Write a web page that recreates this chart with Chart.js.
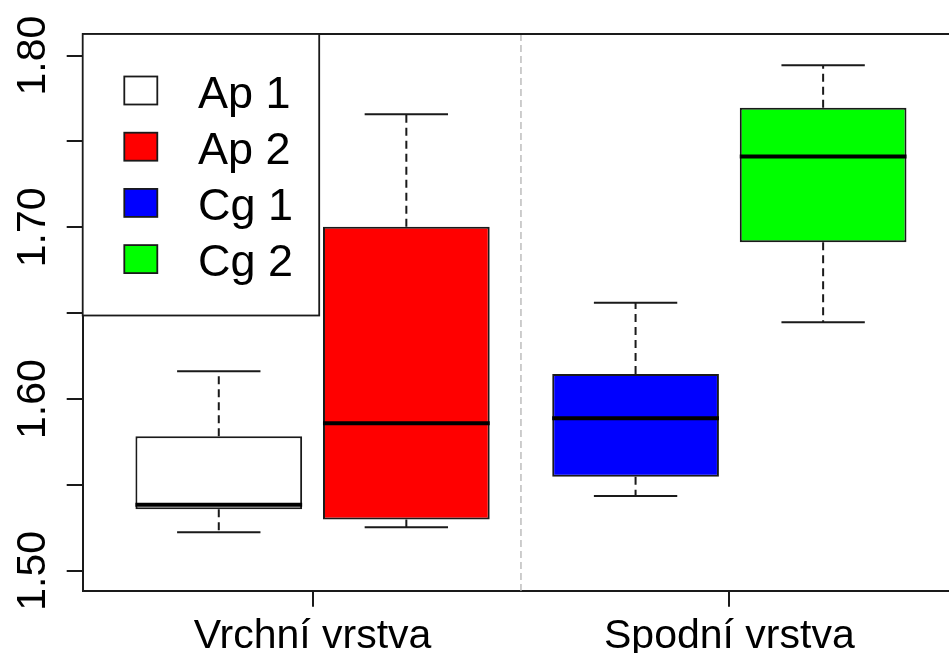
<!DOCTYPE html>
<html>
<head>
<meta charset="utf-8">
<script src="https://cdn.jsdelivr.net/npm/chart.js@4"></script>
<style>
  html, body { margin: 0; padding: 0; background: #fff; overflow: hidden; }
  #wrap { width: 949px; height: 653px; }
</style>
</head>
<body>
<div id="wrap"><canvas id="myChart" width="949" height="653"></canvas></div>
<script>
// data
const groups = ['Ap 1', 'Ap 2', 'Cg 1', 'Cg 2'];
const positions = [1, 1.9, 3, 3.9];
const whiskerLow = [1.5225, 1.5253, 1.5435, 1.6447];
const q1 = [1.5358, 1.5299, 1.5548, 1.6913];
const medians = [1.5385, 1.5859, 1.5888, 1.7412];
const q3 = [1.5783, 1.7004, 1.6146, 1.7697];
const whiskerHigh = [1.6162, 1.7659, 1.6561, 1.7944];
const boxColors = ['#ffffff', '#ff0000', '#0000ff', '#00ff00'];

const layers = ['Vrchní vrstva', 'Spodní vrstva'];
const layerTicks = [1.45, 3.45];
const dividerAt = 2.45;

const yTicks = [1.50, 1.55, 1.60, 1.65, 1.70, 1.75, 1.80];
const yTickLabels = ['1.50', '', '1.60', '', '1.70', '', '1.80'];

const FONT = '"Liberation Sans", Arial, sans-serif';
const INK = '#1a1a1a';

const boxParts = {
  id: 'boxParts',
  beforeDatasetsDraw(chart) {
    const { ctx, chartArea, scales: { x, y } } = chart;
    ctx.save();
    // dashed divider between the two layers
    ctx.strokeStyle = '#bdbdbd';
    ctx.lineWidth = 1.5;
    ctx.setLineDash([7, 4]);
    const dx = x.getPixelForValue(dividerAt);
    ctx.beginPath();
    ctx.moveTo(dx, chartArea.top);
    ctx.lineTo(dx, chartArea.bottom);
    ctx.stroke();

    // whiskers
    ctx.strokeStyle = INK;
    ctx.lineWidth = 2;
    positions.forEach((p, i) => {
      const px = x.getPixelForValue(p);
      ctx.setLineDash([8, 5]);
      ctx.beginPath();
      ctx.moveTo(px, y.getPixelForValue(q3[i]));
      ctx.lineTo(px, y.getPixelForValue(whiskerHigh[i]));
      ctx.moveTo(px, y.getPixelForValue(q1[i]));
      ctx.lineTo(px, y.getPixelForValue(whiskerLow[i]));
      ctx.stroke();
      ctx.setLineDash([]);
      const c0 = x.getPixelForValue(p - 0.2), c1 = x.getPixelForValue(p + 0.2);
      ctx.beginPath();
      [whiskerHigh[i], whiskerLow[i]].forEach(v => {
        const py = y.getPixelForValue(v);
        ctx.moveTo(c0, py);
        ctx.lineTo(c1, py);
      });
      ctx.stroke();
    });
    ctx.restore();
  },
  afterDatasetsDraw(chart) {
    const { ctx, scales: { y } } = chart;
    const meta = chart.getDatasetMeta(0);
    ctx.save();
    ctx.strokeStyle = '#000';
    ctx.lineWidth = 4;
    meta.data.forEach((bar, i) => {
      const py = y.getPixelForValue(medians[i]);
      ctx.beginPath();
      ctx.moveTo(bar.x - bar.width / 2, py);
      ctx.lineTo(bar.x + bar.width / 2, py);
      ctx.stroke();
    });
    ctx.restore();
  },
  afterDraw(chart) {
    const { ctx, chartArea, scales: { x, y } } = chart;
    ctx.save();
    // top frame line
    ctx.strokeStyle = INK;
    ctx.lineWidth = 2;
    ctx.beginPath();
    ctx.moveTo(chartArea.left, chartArea.top);
    ctx.lineTo(chartArea.right, chartArea.top);
    ctx.stroke();

    // y labels, rotated like R does
    ctx.fillStyle = '#000';
    ctx.font = '41px ' + FONT;
    ctx.textAlign = 'center';
    ctx.textBaseline = 'alphabetic';
    yTicks.forEach((v, i) => {
      if (!yTickLabels[i]) return;
      ctx.save();
      ctx.translate(45, y.getPixelForValue(v));
      ctx.rotate(-Math.PI / 2);
      ctx.fillText(yTickLabels[i], 0, 0);
      ctx.restore();
    });

    // x labels
    layers.forEach((name, i) => {
      ctx.fillText(name, x.getPixelForValue(layerTicks[i]), 648);
    });

    // legend box top-left
    const lx = chartArea.left, ly = chartArea.top, lw = 236.5, lh = 281.5;
    ctx.fillStyle = '#fff';
    ctx.fillRect(lx, ly, lw, lh);
    ctx.lineWidth = 1.8;
    ctx.strokeRect(lx, ly, lw, lh);
    ctx.font = '45px ' + FONT;
    ctx.textAlign = 'left';
    groups.forEach((g, i) => {
      const cy = 90.5 + i * 56.2;
      ctx.fillStyle = boxColors[i];
      ctx.fillRect(124.3, cy - 14, 33, 28);
      ctx.strokeRect(124.3, cy - 14, 33, 28);
      ctx.fillStyle = '#000';
      ctx.fillText(g, 198, cy + 17);
    });
    ctx.restore();
  }
};

const ctx = document.getElementById('myChart').getContext('2d');
const myChart = new Chart(ctx, {
  type: 'bar',
  data: {
    datasets: [{
      label: 'box',
      data: positions.map((p, i) => ({ x: p, y: [q1[i], q3[i]] })),
      backgroundColor: boxColors,
      borderColor: INK,
      borderWidth: 2,
      borderSkipped: false,
      categoryPercentage: 1,
      barPercentage: 0.8 / 0.9
    }]
  },
  options: {
    responsive: false,
    animation: false,
    layout: { padding: { top: 34, right: 0, left: 0, bottom: 0 } },
    plugins: { legend: { display: false }, tooltip: { enabled: false } },
    scales: {
      x: {
        type: 'linear',
        offset: false,
        min: 0.347,
        max: 4.504,
        afterBuildTicks: scale => { scale.ticks = layerTicks.map(v => ({ value: v })); },
        afterFit: scale => { scale.height = 62.3; },
        ticks: { display: false },
        grid: { offset: false, drawOnChartArea: false, tickLength: 16, color: INK, lineWidth: 2 },
        border: { color: INK, width: 2 }
      },
      y: {
        type: 'linear',
        beginAtZero: false,
        min: 1.4884,
        max: 1.8126,
        afterBuildTicks: scale => { scale.ticks = yTicks.map(v => ({ value: v })); },
        afterFit: scale => { scale.width = 82.7; },
        ticks: { display: false },
        grid: { drawOnChartArea: false, tickLength: 16, color: INK, lineWidth: 2 },
        border: { color: INK, width: 2 }
      }
    }
  },
  plugins: [boxParts]
});
</script>
</body>
</html>
